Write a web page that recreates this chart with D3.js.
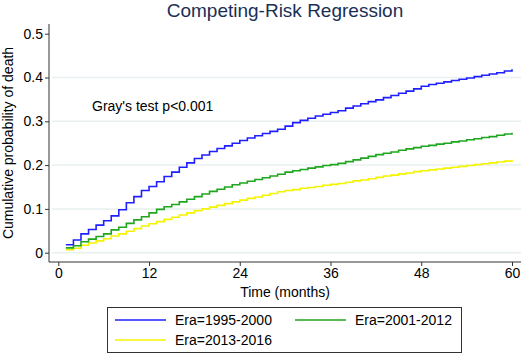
<!DOCTYPE html>
<html>
<head>
<meta charset="utf-8">
<script src="https://cdn.jsdelivr.net/npm/d3@7"></script>
<style>
  body { margin: 0; background: #fff; }
  svg text { font-family: "Liberation Sans", Arial, sans-serif; }
</style>
</head>
<body>
<div id="chart"></div>
<script>
// months 1..60
var months = d3.range(1, 61);

var era1995 = [0.018, 0.029, 0.043, 0.053, 0.063, 0.073, 0.084, 0.098, 0.114, 0.128,
               0.142, 0.151, 0.162, 0.174, 0.184, 0.195, 0.205, 0.215, 0.223, 0.231,
               0.238, 0.244, 0.250, 0.256, 0.262, 0.267, 0.272, 0.277, 0.282, 0.289,
               0.297, 0.302, 0.307, 0.312, 0.316, 0.320, 0.324, 0.330, 0.335, 0.340,
               0.345, 0.349, 0.354, 0.359, 0.364, 0.369, 0.374, 0.380, 0.384, 0.387,
               0.390, 0.393, 0.396, 0.399, 0.402, 0.405, 0.408, 0.411, 0.415, 0.419];

var era2001 = [0.011, 0.016, 0.025, 0.031, 0.037, 0.043, 0.052, 0.058, 0.067, 0.075,
               0.082, 0.091, 0.099, 0.105, 0.110, 0.116, 0.122, 0.128, 0.134, 0.140,
               0.145, 0.150, 0.155, 0.159, 0.163, 0.167, 0.171, 0.175, 0.179, 0.184,
               0.187, 0.190, 0.193, 0.196, 0.199, 0.201, 0.204, 0.208, 0.212, 0.216,
               0.220, 0.224, 0.227, 0.230, 0.234, 0.237, 0.240, 0.243, 0.245, 0.248,
               0.250, 0.253, 0.255, 0.258, 0.260, 0.263, 0.265, 0.268, 0.271, 0.274];

var era2013 = [0.007, 0.010, 0.017, 0.022, 0.027, 0.032, 0.038, 0.043, 0.049, 0.055,
               0.061, 0.066, 0.071, 0.076, 0.081, 0.086, 0.091, 0.096, 0.100, 0.104,
               0.108, 0.112, 0.116, 0.120, 0.124, 0.127, 0.131, 0.135, 0.139, 0.142,
               0.144, 0.147, 0.149, 0.151, 0.154, 0.156, 0.158, 0.161, 0.164, 0.166,
               0.169, 0.172, 0.175, 0.177, 0.180, 0.182, 0.185, 0.187, 0.189, 0.191,
               0.193, 0.195, 0.197, 0.199, 0.201, 0.203, 0.205, 0.207, 0.209, 0.212];

var seriesNames = ["Era=1995-2000", "Era=2001-2012", "Era=2013-2016"];
var xTicks = [0, 12, 24, 36, 48, 60];
var yTicks = [0, 0.1, 0.2, 0.3, 0.4, 0.5];
var gridTicks = [0, 0.1, 0.2, 0.3, 0.4];

function init() {
    var w = 532;
    var h = 356;
    var colors = ["#1f1fff", "#1fa61f", "#f4f400"];
    var allSeries = [era1995, era2001, era2013];

    var svg = d3.select("#chart")
        .append("svg")
        .attr("width", w)
        .attr("height", h);

    var xScale = d3.scaleLinear().domain([0, 60]).range([58.3, 512]);
    var yScale = d3.scaleLinear().domain([0, 0.5]).range([252.7, 33.7]);

    // frame positions
    var axisX = 49, axisY = 262, plotTop = 24, plotRight = 521;

    // gridlines
    svg.append("g").selectAll("line")
        .data(gridTicks)
        .enter().append("line")
        .attr("x1", axisX + 3)
        .attr("x2", plotRight)
        .attr("y1", function (d) { return yScale(d); })
        .attr("y2", function (d) { return yScale(d); })
        .style("stroke", "#e8f0f1")
        .style("stroke-width", 1.5);

    // title
    svg.append("text")
        .attr("x", 285)
        .attr("y", 17)
        .attr("text-anchor", "middle")
        .style("font-size", "19px")
        .style("fill", "#1a2f55")
        .text("Competing-Risk Regression");

    // y axis
    var yAxis = d3.axisLeft(yScale)
        .tickValues(yTicks)
        .tickSize(4)
        .tickPadding(2)
        .tickFormat(function (d) { return d === 0 ? "0" : d3.format(".1f")(d); });
    var gy = svg.append("g")
        .attr("transform", `translate(${axisX},0)`)
        .call(yAxis);
    gy.select(".domain").remove();
    gy.append("line")
        .attr("x1", 0).attr("x2", 0)
        .attr("y1", plotTop).attr("y2", axisY)
        .style("stroke", "#333");

    // x axis
    var xAxis = d3.axisBottom(xScale)
        .tickValues(xTicks)
        .tickSize(4)
        .tickPadding(2);
    var gx = svg.append("g")
        .attr("transform", `translate(0,${axisY})`)
        .call(xAxis);
    gx.select(".domain").remove();
    gx.append("line")
        .attr("x1", axisX).attr("x2", plotRight)
        .attr("y1", 0).attr("y2", 0)
        .style("stroke", "#333");

    svg.selectAll(".tick line").style("stroke", "#333");
    svg.selectAll(".tick text")
        .style("font-size", "14px")
        .style("fill", "#000")
        .style("font-family", "Liberation Sans, Arial, sans-serif");

    // axis titles
    svg.append("text")
        .attr("x", 285)
        .attr("y", 297)
        .attr("text-anchor", "middle")
        .style("font-size", "14px")
        .text("Time (months)");

    svg.append("text")
        .attr("transform", "translate(13,143) rotate(-90)")
        .attr("text-anchor", "middle")
        .style("font-size", "14px")
        .text("Cumulative probability of death");

    // curves, yellow first so blue ends up on top
    var line = d3.line()
        .x(function (d) { return xScale(d.m); })
        .y(function (d) { return yScale(d.v); })
        .curve(d3.curveStepAfter);

    [2, 1, 0].forEach(function (i) {
        var vals = allSeries[i];
        var pts = months.map(function (m, j) { return { m: m, v: vals[j] }; });
        svg.append("path")
            .datum(pts)
            .attr("d", line)
            .style("fill", "none")
            .style("stroke", colors[i])
            .style("stroke-width", 1.6);
    });

    // annotation
    svg.append("text")
        .attr("x", 92)
        .attr("y", 111)
        .style("font-size", "14px")
        .text("Gray's test p<0.001");

    // legend
    var legend = svg.append("g");
    legend.append("rect")
        .attr("x", 107.5).attr("y", 307.5)
        .attr("width", 354).attr("height", 45)
        .style("fill", "#fff")
        .style("stroke", "#333");

    var legPos = [[115, 320], [295, 320], [115, 340]];
    seriesNames.forEach(function (name, i) {
        legend.append("line")
            .attr("x1", legPos[i][0]).attr("x2", legPos[i][0] + 51)
            .attr("y1", legPos[i][1]).attr("y2", legPos[i][1])
            .style("stroke", colors[i])
            .style("stroke-width", 1.6);
        legend.append("text")
            .attr("x", legPos[i][0] + 60)
            .attr("y", legPos[i][1] + 5)
            .style("font-size", "14px")
            .text(name);
    });
}

window.onload = init;
</script>
</body>
</html>
